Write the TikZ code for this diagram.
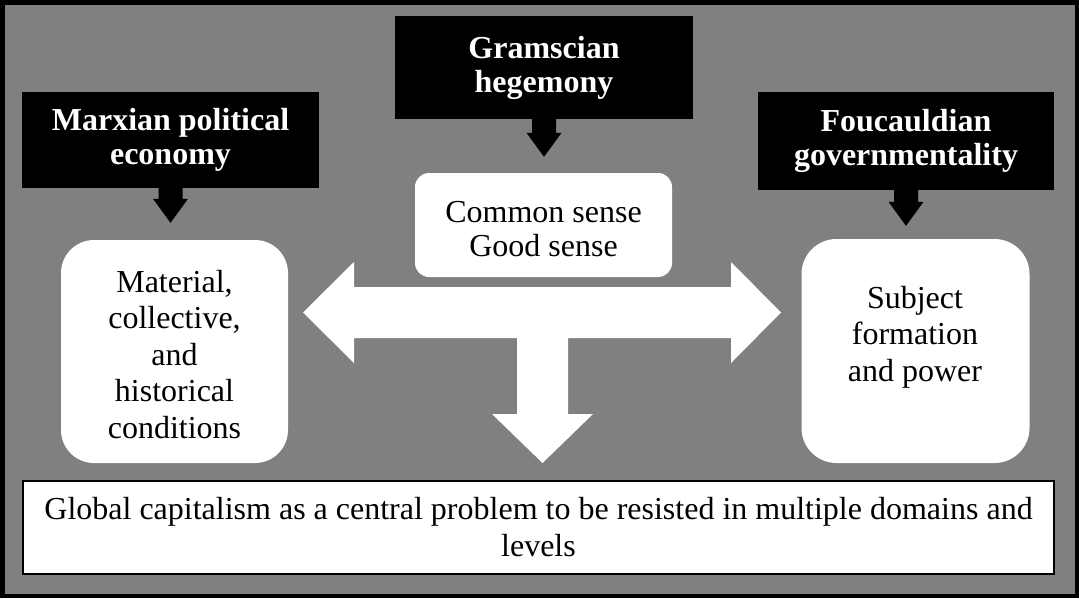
\documentclass[tikz,border=0pt]{standalone}
\usepackage{fontspec}
\setmainfont{Liberation Serif}
\usetikzlibrary{calc}
\definecolor{bggray}{RGB}{128,128,128}
\newcommand\hdfont{\fontsize{32}{34}\selectfont\bfseries}
\newcommand\csfont{\fontsize{32}{34}\selectfont}
\newcommand\bdfont{\fontsize{32}{36.5}\selectfont}
\newcommand\btfont{\fontsize{32}{37}\selectfont}
\newcommand\blkarrow[2]{%
  \fill[black] let \p1=(#1), \p2=(#2) in
    (\x1-12pt,\y1) -- (\x1+12pt,\y1) -- (\x1+12pt,\y2+24pt) -- (\x1+17.5pt,\y2+24pt)
    -- (\x1,\y2) -- (\x1-17.5pt,\y2+24pt) -- (\x1-12pt,\y2+24pt) -- cycle;}
\begin{document}
\begin{tikzpicture}[x=1pt,y=-1pt,
  headbox/.style={fill=black, text=white, font=\hdfont, align=center, inner sep=0pt},
  softbox/.style={fill=white, rounded corners=#1, align=center, inner sep=0pt, font=\bdfont},
  softbox/.default=33pt,
  bodytext/.style={font=\bdfont, align=center, inner sep=0pt}]
\useasboundingbox (0,0) rectangle (1079,598);
% frame
\draw[line width=4.5pt, fill=bggray] (2.25,2.25) rectangle (1076.75,595.75);
% heading boxes
\node[headbox, minimum width=297pt, minimum height=96pt] (marx) at (170.5,140) {Marxian political\\economy};
\node[headbox, minimum width=298pt, minimum height=103pt] (gram) at (544,67.5) {Gramscian\\hegemony};
\node[headbox, minimum width=296pt, minimum height=98pt] (fouc) at (906,141) {Foucauldian\\governmentality};
% content boxes
\node[softbox=14pt, minimum width=257pt, minimum height=104pt] (cs) at (543.5,225) {};
\node[bodytext, font=\csfont] (cstxt) at (543.5,229) {Common sense\\Good sense};
\node[softbox=33pt, minimum width=227pt, minimum height=223pt] (mat) at (174.5,351.5) {};
\node[bodytext] (mattxt) at (174.5,354.5) {Material,\\collective,\\and\\historical\\conditions};
\node[softbox=35pt, minimum width=228pt, minimum height=224pt] (subj) at (915.5,351) {};
\node[bodytext] (subjtxt) at (915,337) {Subject\\formation\\and power};
\node[draw=black, line width=2.5pt, fill=white, minimum width=1031pt, minimum height=93pt,
      inner sep=0pt, align=center, font=\btfont] (glob) at (538.5,527.5)
      {Global capitalism as a central problem to be resisted in multiple domains and\\levels};
% small black arrows
\coordinate (marxtip) at ($(marx.south |- mat.north)+(0,-17)$);
\coordinate (gramtip) at ($(gram.south |- cs.north)+(0,-16)$);
\coordinate (fouctip) at ($(fouc.south |- subj.north)+(0,-13)$);
\blkarrow{marx.south}{marxtip}
\blkarrow{gram.south}{gramtip}
\blkarrow{fouc.south}{fouctip}
% big white three-way arrow
\fill[white] (303,312.5) -- (354,262) -- (354,287) -- (731,287) -- (731,262) -- (781,312.5)
  -- (731,363) -- (731,338) -- (568,338) -- (568,414) -- (593,414) -- (542.5,463)
  -- (492,414) -- (517,414) -- (517,338) -- (354,338) -- (354,363) -- cycle;
\end{tikzpicture}
\end{document}
